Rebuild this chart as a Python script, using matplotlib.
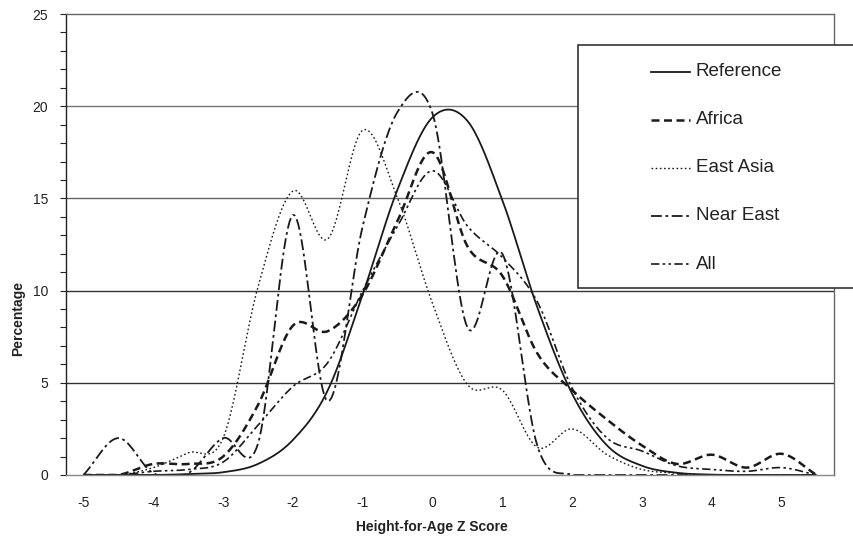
import numpy as np
import matplotlib
matplotlib.use("Agg")
import matplotlib.pyplot as plt
from matplotlib.patches import Rectangle
from matplotlib.lines import Line2D

plt.rcParams['font.family'] = ['Liberation Sans', 'DejaVu Sans']

# ---- data ----
z_scores = [-5, -4.5, -4, -3.5, -3, -2.5, -2, -1.5, -1, -0.5, 0, 0.5,
            1, 1.5, 2, 2.5, 3, 3.5, 4, 4.5, 5, 5.5]
reference = [0, 0, 0, 0.05, 0.15, 0.6, 1.9, 4.6, 9.8, 15.5, 19.4, 19.2,
             14.9, 9.1, 4.4, 1.6, 0.5, 0.12, 0.02, 0, 0, 0]
africa = [0, 0, 0.6, 0.6, 1.0, 3.8, 8.1, 7.8, 9.8, 13.8, 17.5, 12.4,
          10.8, 6.6, 4.6, 3.0, 1.6, 0.6, 1.1, 0.4, 1.15, 0]
east_asia = [0, 0, 0.4, 1.2, 2.0, 10.2, 15.4, 12.8, 18.7, 15.0, 9.3, 4.9,
             4.6, 1.5, 2.5, 1.1, 0.3, 0.1, 0, 0, 0, 0]
near_east = [0, 2.0, 0.1, 0.1, 2.0, 1.7, 14.1, 4.0, 13.5, 19.7, 19.6, 8.0,
             12.0, 1.6, 0, 0, 0, 0, 0, 0, 0, 0]
all_regions = [0, 0, 0.2, 0.3, 0.7, 2.7, 4.8, 6.1, 10.0, 13.5, 16.5, 13.5,
               11.8, 9.4, 4.7, 2.0, 1.3, 0.5, 0.3, 0.2, 0.4, 0]
series_names = ["Reference", "Africa", "East Asia", "Near East", "All"]
x_tick_values = [-5, -4, -3, -2, -1, 0, 1, 2, 3, 4, 5]
y_tick_values = [0, 5, 10, 15, 20, 25]

styles = {
    "Reference": dict(linestyle='-', lw=1.3),
    "Africa": dict(linestyle=(0, (3.2, 1.8)), lw=1.8),
    "East Asia": dict(linestyle=(0, (1.2, 1.8)), lw=1.0),
    "Near East": dict(linestyle=(0, (6, 2, 1.5, 2)), lw=1.3),
    "All": dict(linestyle=(0, (5, 2, 1.5, 2, 1.5, 2)), lw=1.2),
}


def smooth(xs, ys, n=20):
    """Catmull-Rom smoothing (like a spreadsheet 'smoothed line')."""
    xs = np.asarray(xs, float)
    ys = np.asarray(ys, float)
    px = np.concatenate([[2 * xs[0] - xs[1]], xs, [2 * xs[-1] - xs[-2]]])
    py = np.concatenate([[2 * ys[0] - ys[1]], ys, [2 * ys[-1] - ys[-2]]])
    outx, outy = [], []
    t = np.linspace(0, 1, n, endpoint=False)
    for i in range(1, len(px) - 2):
        for arr, out in ((px, outx), (py, outy)):
            p0, p1, p2, p3 = arr[i - 1], arr[i], arr[i + 1], arr[i + 2]
            v = 0.5 * (2 * p1 + (-p0 + p2) * t + (2 * p0 - 5 * p1 + 4 * p2 - p3) * t ** 2
                       + (-p0 + 3 * p1 - 3 * p2 + p3) * t ** 3)
            out.extend(v)
    outx.append(xs[-1])
    outy.append(ys[-1])
    return np.array(outx), np.clip(np.array(outy), 0, None)


W, H = 854, 542
fig = plt.figure(figsize=(W / 100, H / 100), dpi=100)
ax = fig.add_axes([66 / W, 1 - 475 / H, (834 - 66) / W, (475 - 14) / H])

data = {"Reference": reference, "Africa": africa, "East Asia": east_asia,
        "Near East": near_east, "All": all_regions}
for name in series_names:
    sx, sy = smooth(z_scores, data[name])
    ax.plot(sx, sy, color='#1a1a1a', solid_capstyle='butt',
            dash_capstyle='butt', **styles[name])

ax.set_xlim(-5.25, 5.75)
ax.set_ylim(0, 25)
for yv, col in zip(y_tick_values[1:-1], ['#333333', '#333333', '#666666', '#777777']):
    ax.axhline(yv, color=col, lw=1.0, zorder=0)

ax.set_xticks(x_tick_values)
ax.set_xticklabels([str(v) for v in x_tick_values])
ax.set_yticks(y_tick_values)
ax.set_yticklabels([str(v) for v in y_tick_values])
ax.set_yticks(np.arange(0, 26, 1), minor=True)
ax.tick_params(axis='x', length=0, pad=15, labelsize=10, colors='#222222')
ax.tick_params(axis='y', which='both', length=4, width=0.8, direction='out',
               pad=9, labelsize=10, colors='#222222')

ax.spines['left'].set_color('#222222')
ax.spines['top'].set_color('#666666')
ax.spines['right'].set_color('#666666')
ax.spines['bottom'].set_color('#888888')
for s in ax.spines.values():
    s.set_linewidth(1.0)

fig.text(432 / W, 1 - 527 / H, "Height-for-Age Z Score", ha='center', va='center',
         fontsize=10, fontweight='bold', color='#222222')
fig.text(18 / W, 1 - 318 / H, "Percentage", ha='center', va='center', rotation=90,
         fontsize=10, fontweight='bold', color='#222222')

# ---- legend (box extends past the right edge, as in the original) ----
fig.add_artist(Rectangle((578 / W, 1 - 288 / H), (880 - 578) / W, (288 - 45) / H,
                         transform=fig.transFigure, facecolor='white',
                         edgecolor='#333333', lw=1.2, zorder=10))
rows = [72, 120, 168, 216, 264]
for name, ry in zip(series_names, rows):
    fig.add_artist(Line2D([651 / W, 690 / W], [1 - ry / H, 1 - ry / H],
                          transform=fig.transFigure, color='#1a1a1a',
                          dash_capstyle='butt', zorder=11, **styles[name]))
    fig.text(696 / W, 1 - ry / H, name, ha='left', va='center', fontsize=13.5,
             color='#222222', zorder=12)

fig.savefig("out.png", dpi=100)
